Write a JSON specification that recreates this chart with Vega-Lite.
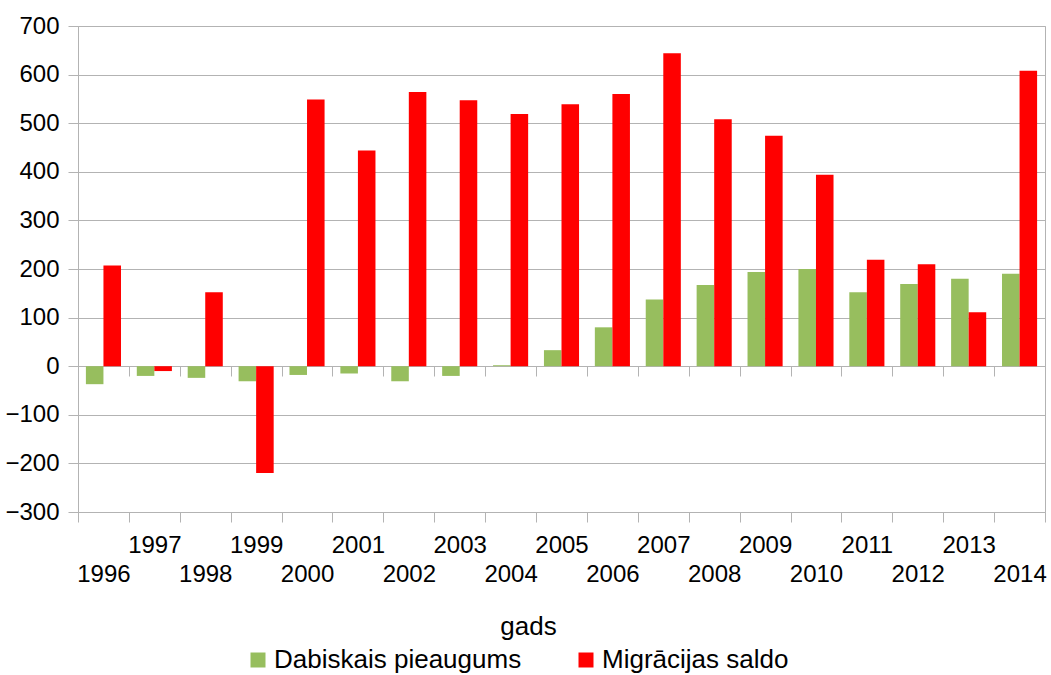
{
  "$schema": "https://vega.github.io/schema/vega-lite/v6.json",
  "autosize": {"type": "none"},
  "padding": {"left": 78, "top": 26, "right": 6, "bottom": 163},
  "width": 967,
  "height": 486,
  "background": "white",
  "config": {
    "font": "Liberation Sans",
    "view": {"stroke": "#b3b3b3", "strokeWidth": 1}
  },
  "data": {
    "values": [
      {"year": 1996, "series": "Dabiskais pieaugums", "value": -37},
      {"year": 1996, "series": "Migrācijas saldo", "value": 207},
      {"year": 1997, "series": "Dabiskais pieaugums", "value": -20},
      {"year": 1997, "series": "Migrācijas saldo", "value": -10},
      {"year": 1998, "series": "Dabiskais pieaugums", "value": -24},
      {"year": 1998, "series": "Migrācijas saldo", "value": 152},
      {"year": 1999, "series": "Dabiskais pieaugums", "value": -31},
      {"year": 1999, "series": "Migrācijas saldo", "value": -220},
      {"year": 2000, "series": "Dabiskais pieaugums", "value": -18},
      {"year": 2000, "series": "Migrācijas saldo", "value": 549},
      {"year": 2001, "series": "Dabiskais pieaugums", "value": -15},
      {"year": 2001, "series": "Migrācijas saldo", "value": 444},
      {"year": 2002, "series": "Dabiskais pieaugums", "value": -31},
      {"year": 2002, "series": "Migrācijas saldo", "value": 564},
      {"year": 2003, "series": "Dabiskais pieaugums", "value": -20},
      {"year": 2003, "series": "Migrācijas saldo", "value": 547},
      {"year": 2004, "series": "Dabiskais pieaugums", "value": 2},
      {"year": 2004, "series": "Migrācijas saldo", "value": 519},
      {"year": 2005, "series": "Dabiskais pieaugums", "value": 33},
      {"year": 2005, "series": "Migrācijas saldo", "value": 539},
      {"year": 2006, "series": "Dabiskais pieaugums", "value": 80},
      {"year": 2006, "series": "Migrācijas saldo", "value": 560},
      {"year": 2007, "series": "Dabiskais pieaugums", "value": 137},
      {"year": 2007, "series": "Migrācijas saldo", "value": 644},
      {"year": 2008, "series": "Dabiskais pieaugums", "value": 167},
      {"year": 2008, "series": "Migrācijas saldo", "value": 508},
      {"year": 2009, "series": "Dabiskais pieaugums", "value": 194},
      {"year": 2009, "series": "Migrācijas saldo", "value": 474},
      {"year": 2010, "series": "Dabiskais pieaugums", "value": 200},
      {"year": 2010, "series": "Migrācijas saldo", "value": 394},
      {"year": 2011, "series": "Dabiskais pieaugums", "value": 152},
      {"year": 2011, "series": "Migrācijas saldo", "value": 219},
      {"year": 2012, "series": "Dabiskais pieaugums", "value": 169},
      {"year": 2012, "series": "Migrācijas saldo", "value": 210},
      {"year": 2013, "series": "Dabiskais pieaugums", "value": 180},
      {"year": 2013, "series": "Migrācijas saldo", "value": 111},
      {"year": 2014, "series": "Dabiskais pieaugums", "value": 190},
      {"year": 2014, "series": "Migrācijas saldo", "value": 608}
    ]
  },
  "layer": [
    {
      "mark": {"type": "bar", "opacity": 0},
      "encoding": {
        "x": {
          "field": "year", "type": "ordinal",
          "scale": {"paddingInner": 0, "paddingOuter": 0},
          "axis": {
            "orient": "bottom", "offset": -146, "labels": false, "domain": false,
            "grid": false, "ticks": true, "tickBand": "extent", "tickSize": 10,
            "tickColor": "#b3b3b3", "title": null
          }
        },
        "y": {
          "field": "value", "type": "quantitative",
          "scale": {"domain": [-300, 700], "nice": false},
          "axis": {
            "values": [-300, -200, -100, 0, 100, 200, 300, 400, 500, 600, 700],
            "title": null, "labelFontSize": 24, "labelColor": "#000000", "labelPadding": 9,
            "tickSize": 10, "tickColor": "#b3b3b3", "domainColor": "#b3b3b3",
            "gridColor": "#b3b3b3", "grid": true
          }
        }
      }
    },
    {
      "mark": {"type": "bar"},
      "encoding": {
        "x": {
          "field": "year", "type": "ordinal",
          "scale": {"paddingInner": 0, "paddingOuter": 0},
          "axis": {
            "orient": "bottom",
            "title": "gads", "titleFontSize": 26, "titleFontWeight": "normal", "titleColor": "#000000", "titlePadding": 27,
            "titleX": 450,
            "labelAngle": 0, "labelFontSize": 24, "labelColor": "#000000", "labelPadding": 11,
            "labelBaseline": "top", "labelLineHeight": 29, "labelOverlap": false, "labelBound": false,
            "labelExpr": "datum.value % 2 == 0 ? ['\u00a0', datum.label] : datum.label",
            "tickBand": "extent", "tickSize": 10, "tickColor": "#b3b3b3",
            "domain": false, "grid": false
          }
        },
        "xOffset": {
          "field": "series", "type": "nominal",
          "scale": {"domain": ["Dabiskais pieaugums", "Migrācijas saldo"], "paddingInner": 0, "paddingOuter": 0.45}
        },
        "y": {
          "field": "value", "type": "quantitative",
          "scale": {"domain": [-300, 700], "nice": false}
        },
        "color": {
          "field": "series", "type": "nominal",
          "scale": {"domain": ["Dabiskais pieaugums", "Migrācijas saldo"], "range": ["#97be5e", "#ff0000"]},
          "legend": {
            "orient": "none", "legendX": 167, "legendY": 621, "direction": "horizontal",
            "title": null, "symbolType": "square", "symbolSize": 225, "symbolStrokeWidth": 0,
            "labelFontSize": 26, "labelColor": "#000000", "labelOffset": 3, "columnPadding": 51,
            "labelLimit": 0
          }
        }
      }
    }
  ],
  "resolve": {"axis": {"x": "independent"}}
}
